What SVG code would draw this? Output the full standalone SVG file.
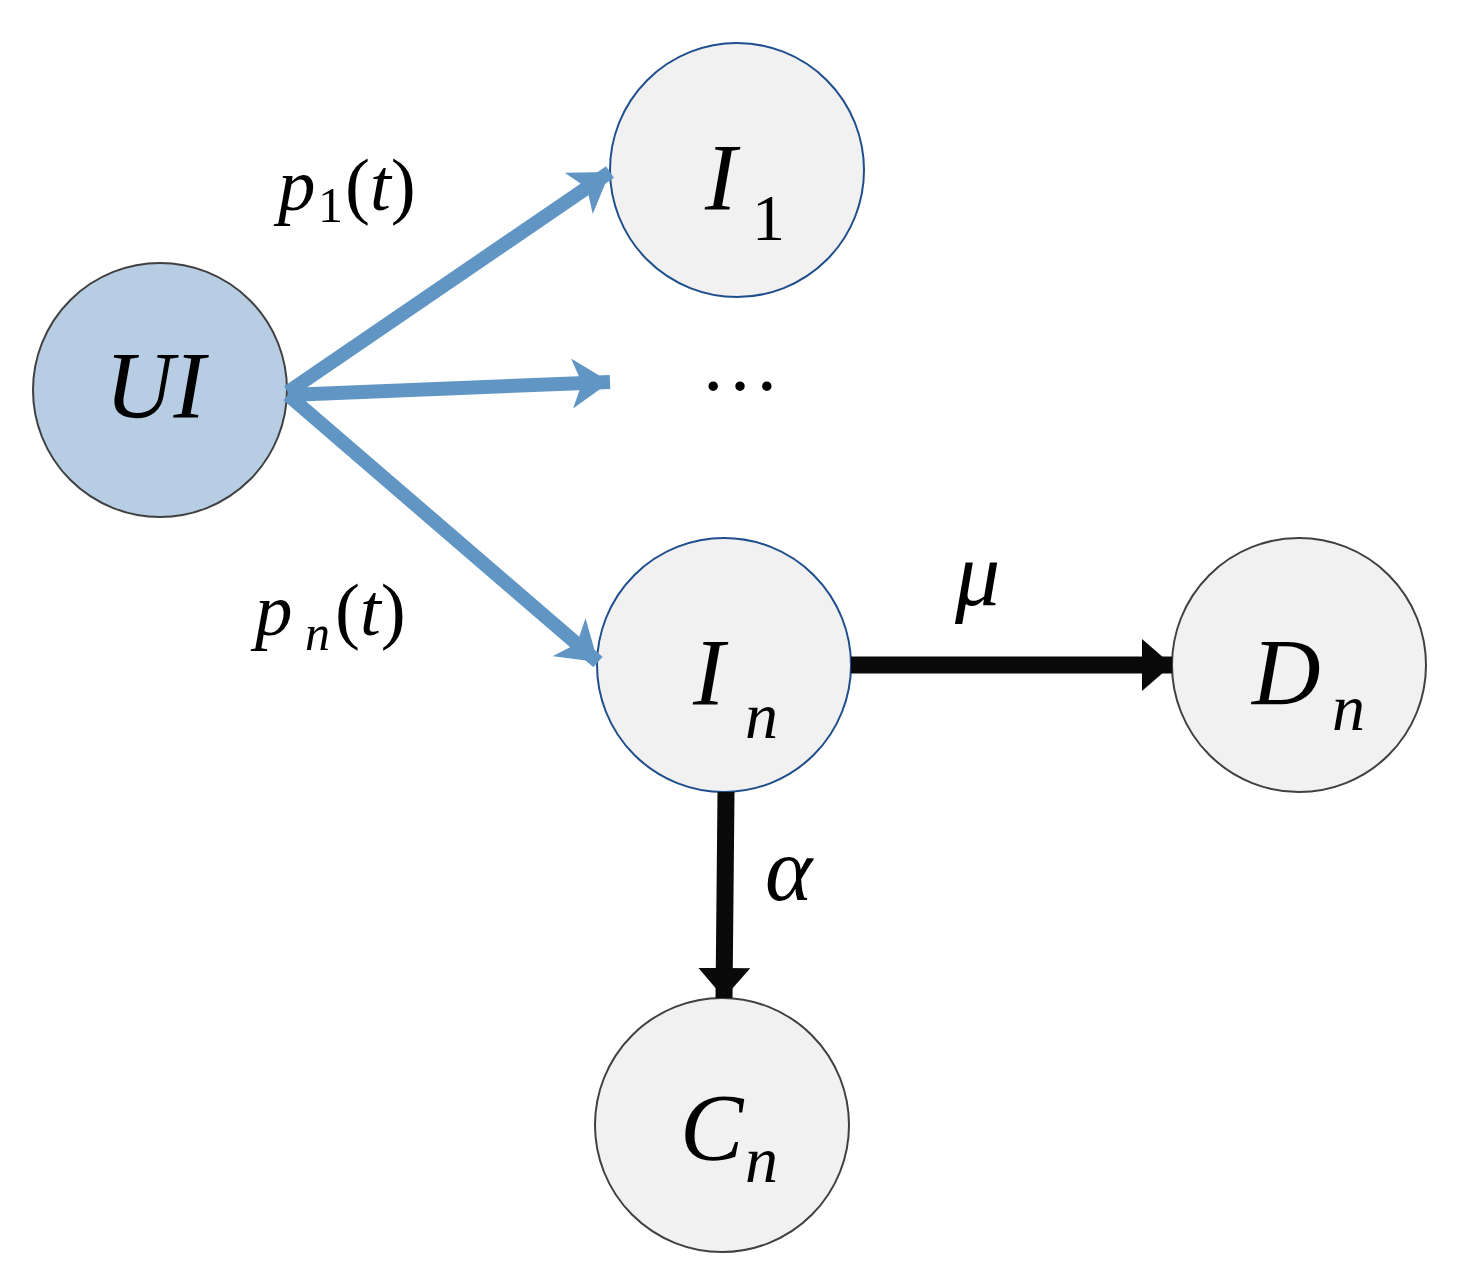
<svg xmlns="http://www.w3.org/2000/svg" width="1465" height="1270" viewBox="0 0 1465 1270">
<style>
.n{fill:#f1f1f1;stroke:#404040;stroke-width:2}
.nb{fill:#f1f1f1;stroke:#1f4e8c;stroke-width:2}
text{font-family:"Liberation Serif",serif;fill:#000}
.i{font-style:italic}
.blue{stroke:#6196c4;stroke-width:14;fill:none}
.blk{stroke:#0a0a0a;stroke-width:17;fill:none}
</style>
<defs>
<marker id="ab" markerUnits="userSpaceOnUse" markerWidth="40" markerHeight="50" refX="38" refY="25" orient="auto"><path d="M0,0 L38,25 L0,50 L10,25 Z" fill="#6196c4"/></marker>
<marker id="ak" markerUnits="userSpaceOnUse" markerWidth="32" markerHeight="52" refX="30" refY="26" orient="auto"><path d="M0,0 L30,26 L0,52 Z" fill="#0a0a0a"/></marker>
</defs>
<g id="UI"><circle cx="160" cy="390" r="127" fill="#b7cde3" stroke="#404040" stroke-width="2"/><text x="155" y="418" font-size="95" text-anchor="middle" class="i">UI</text></g>
<g id="I1"><circle cx="737" cy="170" r="127" class="nb"/><text x="705" y="210" font-size="95" class="i">I</text><text x="752" y="240" font-size="66">1</text></g>
<g id="dots"><text x="740" y="390" font-size="80" text-anchor="middle">…</text></g>
<g id="In"><circle cx="724" cy="665" r="127" class="nb"/><text x="693" y="705" font-size="95" class="i">I</text><text x="745" y="738" font-size="66" class="i">n</text></g>
<g id="Dn"><circle cx="1299" cy="665" r="127" class="n"/><text x="1252" y="705" font-size="95" class="i">D</text><text x="1332" y="730" font-size="66" class="i">n</text></g>
<g id="Cn"><circle cx="722" cy="1125" r="127" class="n"/><text x="680" y="1160" font-size="95" class="i">C</text><text x="745" y="1182" font-size="66" class="i">n</text></g>
<g id="connectors">
<line x1="288" y1="392" x2="610" y2="172" class="blue" marker-end="url(#ab)"/>
<line x1="288" y1="395" x2="610" y2="382" class="blue" marker-end="url(#ab)"/>
<line x1="288" y1="395" x2="598" y2="662" class="blue" marker-end="url(#ab)"/>
<line x1="851" y1="665" x2="1172" y2="665" class="blk" marker-end="url(#ak)"/>
<line x1="726" y1="792" x2="724" y2="998" class="blk" marker-end="url(#ak)"/>
<text x="278" y="210" font-size="75" class="i">p</text><text x="318" y="222" font-size="50">1</text><text x="345" y="210" font-size="75">(<tspan class="i">t</tspan>)</text>
<text x="255" y="635" font-size="75" class="i">p</text><text x="305" y="650" font-size="50" class="i">n</text><text x="335" y="635" font-size="75">(<tspan class="i">t</tspan>)</text>
<text x="955" y="605" font-size="90" class="i">μ</text>
<text x="765" y="900" font-size="90" class="i">α</text>
</g>
</svg>
